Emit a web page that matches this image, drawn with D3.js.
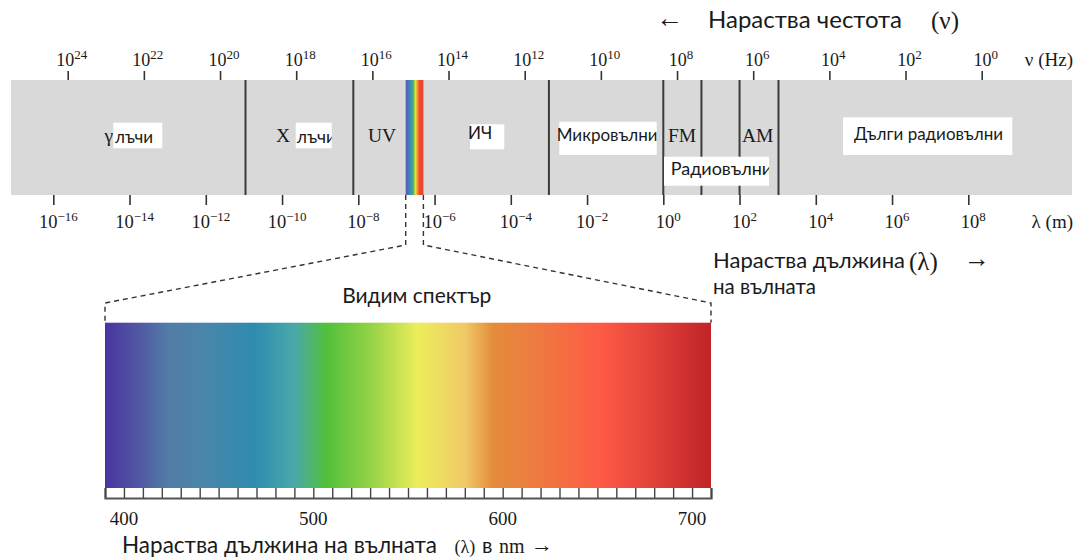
<!DOCTYPE html>
<html>
<head>
    <meta charset="utf-8">
    <title>EM spectrum</title>
    <script src="https://d3js.org/d3.v7.min.js"></script>
    <style>
        body { margin: 0; background: #fff; }
        .sans { font-family: Lato, "Noto Sans", sans-serif; fill: #1a1a1a; }
        .serif { font-family: "Liberation Serif", "DejaVu Serif", serif; fill: #1a1a1a; }
    </style>
</head>
<body>
<script>
    // ---- data ----
    let freqExp = [24, 22, 20, 18, 16, 14, 12, 10, 8, 6, 4, 2, 0];          // ν (Hz) ticks, powers of ten
    let waveExp = [-16, -14, -12, -10, -8, -6, -4, -2, 0, 2, 4, 6, 8];      // λ (m) ticks, powers of ten
    let borders = [1.1e-11, 7.4e-9, 1e-3, 1, 10, 100, 1050];                // region borders, λ in m
    let visibleBand = [1.75e-7, 5.1e-7];                                    // visible strip in the band, λ in m
    let nmRange = [390, 710];                                               // visible spectrum, nm
    let nmLabels = [400, 500, 600, 700];
    let nmStops = [390, 408, 423, 442, 469, 490, 507, 530, 555, 580, 595, 618, 652, 681, 710];
    let nmColors = ["#4a35a0", "#5058a3", "#527ca6", "#4a86aa", "#2e8cb0", "#4aa8aa", "#52c03a", "#94d246",
                    "#ecee5a", "#f0c968", "#e48c3c", "#ee7a40", "#fe5a46", "#e04038", "#c02428"];
    let stripColors = ["#5a5aa8", "#3e7ec6", "#3aa0a0", "#60c040", "#e8e040", "#f0a030", "#f04a30", "#e8402c"];
    let stripAt = [0, 0.2, 0.36, 0.45, 0.55, 0.65, 0.76, 1];

    let width = 1079, height = 559;
    let bandTop = 80, bandBottom = 195;

    let svg = d3.select("body").append("svg").attr("width", width).attr("height", height);
    let defs = svg.append("defs");

    let xWave = d3.scaleLog().domain([1e-16, 1e8]).range([53.3, 968.3]);
    let xFreq = d3.scaleLog().domain([1e24, 1]).range([67.7, 981.7]);
    let xNm = d3.scaleLinear().domain(nmRange).range([105, 711]);

    // gray band
    svg.append("rect").attr("x", 11).attr("y", bandTop).attr("width", 1061).attr("height", bandBottom - bandTop)
        .style("fill", "#d9d9d9");

    // visible strip in the band
    let sg = defs.append("linearGradient").attr("id", "strip");
    sg.selectAll("stop").data(stripColors).enter().append("stop")
        .attr("offset", function(d, i) { return stripAt[i]; })
        .attr("stop-color", function(d) { return d; });
    svg.append("rect")
        .attr("x", xWave(visibleBand[0])).attr("y", bandTop)
        .attr("width", xWave(visibleBand[1]) - xWave(visibleBand[0])).attr("height", bandBottom - bandTop)
        .style("fill", "url(#strip)");

    // region borders
    svg.selectAll("line.border").data(borders).enter().append("line")
        .attr("class", "border")
        .attr("x1", function(d) { return xWave(d); }).attr("x2", function(d) { return xWave(d); })
        .attr("y1", bandTop).attr("y2", bandBottom)
        .style("stroke", "#3a3a3a").style("stroke-width", 2);

    // top axis (frequency)
    let topAxis = svg.append("g").attr("transform", "translate(0," + bandTop + ")")
        .call(d3.axisTop(xFreq).tickValues(freqExp.map(function(e) { return Math.pow(10, e); }))
            .tickSize(9).tickFormat(""));
    topAxis.select(".domain").remove();
    topAxis.selectAll(".tick line").style("stroke", "#333").style("stroke-width", 1.6);

    let topLab = svg.selectAll("text.flab").data(freqExp).enter().append("text")
        .attr("class", "flab serif")
        .attr("x", function(d) { return xFreq(Math.pow(10, d)) + 4; })
        .attr("y", 66)
        .attr("text-anchor", "middle")
        .style("font-size", "18px");
    topLab.append("tspan").text("10");
    topLab.append("tspan").attr("dy", -7).style("font-size", "13px").text(function(d) { return d; });

    // bottom axis (wavelength)
    let botAxis = svg.append("g").attr("transform", "translate(0," + bandBottom + ")")
        .call(d3.axisBottom(xWave).tickValues(waveExp.map(function(e) { return Math.pow(10, e); }))
            .tickSize(10).tickFormat(""));
    botAxis.select(".domain").remove();
    botAxis.selectAll(".tick line").style("stroke", "#333").style("stroke-width", 1.6);

    let botLab = svg.selectAll("text.wlab").data(waveExp).enter().append("text")
        .attr("class", "wlab serif")
        .attr("x", function(d) { return xWave(Math.pow(10, d)) + 5; })
        .attr("y", 228)
        .attr("text-anchor", "middle")
        .style("font-size", "18.5px");
    botLab.append("tspan").text("10");
    botLab.append("tspan").attr("dy", -7).style("font-size", "13px")
        .text(function(d) { return d < 0 ? "\u2212" + (-d) : d; });

    svg.append("text").attr("class", "serif").attr("x", 1073).attr("y", 66).attr("text-anchor", "end")
        .style("font-size", "19px").text("\u03bd (Hz)");
    svg.append("text").attr("class", "serif").attr("x", 1073).attr("y", 228).attr("text-anchor", "end")
        .style("font-size", "19px").text("\u03bb (m)");

    // region labels
    let serifLabels = [
        { t: "\u03b3", x: 113, anchor: "end" },
        { t: "X", x: 290, anchor: "end" },
        { t: "UV", x: 368, anchor: "start" },
        { t: "FM", x: 668, anchor: "start" },
        { t: "AM", x: 742, anchor: "start" }
    ];
    svg.selectAll("text.reg").data(serifLabels).enter().append("text")
        .attr("class", "reg serif")
        .attr("x", function(d) { return d.x; }).attr("y", 142)
        .attr("text-anchor", function(d) { return d.anchor; })
        .style("font-size", "19.5px")
        .text(function(d) { return d.t; });

    let boxLabels = [
        { t: "лъчи", x: 113.3, y: 122.7, w: 49, h: 25.6, tx: 115, ty: 143, fs: 17 },
        { t: "лъчи", x: 295.7, y: 122.7, w: 36, h: 25.6, tx: 296.7, ty: 143, fs: 17.5 },
        { t: "ИЧ", x: 470, y: 124.3, w: 34.3, h: 25, tx: 468, ty: 139.3, fs: 17 },
        { t: "Микровълни", x: 559.3, y: 121.7, w: 97.4, h: 33.3, tx: 556.7, ty: 140.7, fs: 17 },
        { t: "Радиовълни", x: 664, y: 156.7, w: 105, h: 29, tx: 670.7, ty: 175, fs: 18 },
        { t: "Дълги радиовълни", x: 843, y: 117.3, w: 169.3, h: 37.7, tx: 854, ty: 140, fs: 17 }
    ];
    boxLabels.forEach(function(b, i) {
        defs.append("clipPath").attr("id", "clip" + i).append("rect")
            .attr("x", Math.min(b.x, b.tx)).attr("y", b.y).attr("width", b.x + b.w - Math.min(b.x, b.tx)).attr("height", b.h);
        svg.append("rect").attr("x", b.x).attr("y", b.y).attr("width", b.w).attr("height", b.h).style("fill", "#fff");
        svg.append("text").attr("class", "sans").attr("clip-path", "url(#clip" + i + ")")
            .attr("x", b.tx).attr("y", b.ty).style("font-size", b.fs + "px").text(b.t);
    });

    // dashed zoom lines
    let dash = d3.line();
    let yApex = 245, yFoot = 303, ySpec = 322.7;
    [[visibleBand[0], nmRange[0]], [visibleBand[1], nmRange[1]]].forEach(function(p) {
        svg.append("path")
            .attr("d", dash([[xWave(p[0]), bandBottom], [xWave(p[0]), yApex], [xNm(p[1]), yFoot], [xNm(p[1]), ySpec]]))
            .style("fill", "none").style("stroke", "#333").style("stroke-width", 1.4)
            .style("stroke-dasharray", "5,4");
    });

    // visible spectrum
    let g = defs.append("linearGradient").attr("id", "spec")
        .attr("gradientUnits", "userSpaceOnUse")
        .attr("x1", xNm(nmRange[0])).attr("x2", xNm(nmRange[1])).attr("y1", 0).attr("y2", 0);
    g.selectAll("stop").data(nmStops).enter().append("stop")
        .attr("offset", function(d) { return (d - nmRange[0]) / (nmRange[1] - nmRange[0]); })
        .attr("stop-color", function(d, i) { return nmColors[i]; });
    svg.append("rect").attr("x", xNm(nmRange[0])).attr("y", ySpec)
        .attr("width", xNm(nmRange[1]) - xNm(nmRange[0])).attr("height", 488 - ySpec)
        .style("fill", "url(#spec)");

    // ruler under the spectrum
    let ruler = svg.append("g").attr("transform", "translate(0,498)")
        .call(d3.axisTop(xNm).ticks(32).tickSize(10).tickSizeOuter(10).tickFormat(""));
    ruler.select(".domain").style("stroke", "#555").style("stroke-width", 2.2);
    ruler.selectAll(".tick line").style("stroke", "#444").style("stroke-width", 1.4);

    svg.selectAll("text.nm").data(nmLabels).enter().append("text")
        .attr("class", "nm serif")
        .attr("x", function(d) { return xNm(d); }).attr("y", 525)
        .attr("text-anchor", "middle").style("font-size", "19px")
        .text(function(d) { return d; });

    svg.append("text").attr("class", "sans").attr("x", 416.7).attr("y", 303).attr("text-anchor", "middle")
        .style("font-size", "21px").text("Видим спектър");

    // titles
    svg.append("text").attr("class", "serif").attr("x", 656).attr("y", 27).style("font-size", "27px").text("\u2190");
    svg.append("text").attr("class", "sans").attr("x", 708).attr("y", 28).style("font-size", "24px").text("Нараства честота");
    svg.append("text").attr("class", "serif").attr("x", 931).attr("y", 29).style("font-size", "25px").text("(\u03bd)");

    let incr = svg.append("text").attr("class", "sans").attr("x", 713).attr("y", 268).style("font-size", "22px")
        .text("Нараства дължина");
    let incrEnd = 713 + incr.node().getComputedTextLength();
    svg.append("text").attr("class", "serif").attr("x", incrEnd + 4).attr("y", 270).style("font-size", "25px")
        .text("(\u03bb)");
    svg.append("text").attr("class", "serif").attr("x", 964).attr("y", 267).style("font-size", "26px").text("\u2192");
    svg.append("text").attr("class", "sans").attr("x", 713).attr("y", 294).style("font-size", "20.5px").text("на вълната");

    svg.append("text").attr("class", "sans").attr("x", 122).attr("y", 553).style("font-size", "22.5px")
        .text("Нараства дължина на вълната");
    svg.append("text").attr("class", "serif").attr("x", 454.6).attr("y", 553).style("font-size", "18px").text("(\u03bb)");
    svg.append("text").attr("class", "sans").attr("x", 482).attr("y", 553).style("font-size", "21px").text("в");
    svg.append("text").attr("class", "serif").attr("x", 499).attr("y", 553).style("font-size", "20px").text("nm");
    svg.append("text").attr("class", "serif").attr("x", 531).attr("y", 552).style("font-size", "22px").text("\u2192");
</script>
</body>
</html>
